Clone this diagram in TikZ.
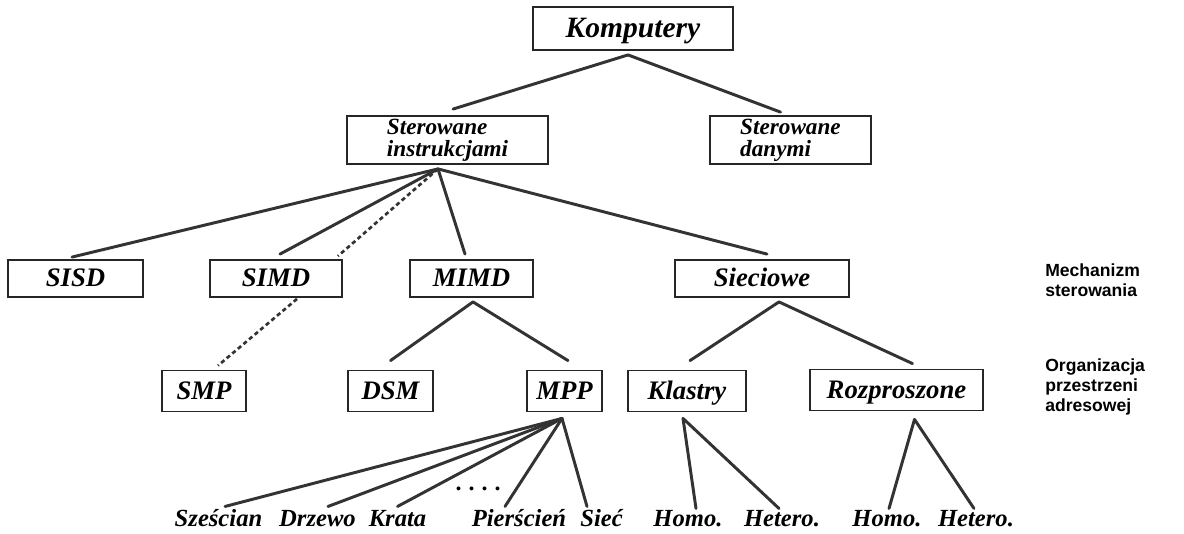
\documentclass[tikz,border=0pt]{standalone}
\usepackage{fontspec}
\setmainfont{Liberation Serif}
\newfontfamily\sidefont{Liberation Sans}
\usetikzlibrary{calc}
\tikzset{
  frame/.style={draw=black!85, line width=1.3pt, inner sep=0pt, minimum height=0.925cm},
  box/.style={frame, text height=12.5pt, text depth=0.5pt, font=\fontsize{19}{20}\selectfont\bfseries\itshape},
  twoline/.style={frame, align=left, font=\fontsize{16.5}{15.5}\selectfont\bfseries\itshape},
  leaf/.style={inner sep=0pt, text height=12pt, text depth=4pt, font=\fontsize{17.5}{20}\selectfont\bfseries\itshape},
  side/.style={inner sep=0pt, anchor=west, align=left, font=\sidefont\bfseries\fontsize{12.5}{14}\selectfont},
  edge/.style={draw=black!80, line width=2.1pt, line cap=round},
  dashedge/.style={draw=black!80, line width=1.9pt, dash pattern=on 3pt off 2.2pt},
}
\begin{document}
\begin{tikzpicture}[x=0.025cm,y=-0.025cm]
\useasboundingbox (0,0) rectangle (1184,533);
\node[box,minimum width=5cm,minimum height=1.075cm,text height=14pt,font=\fontsize{21}{24}\selectfont\bfseries\itshape] (kom) at (633,28.5) {Komputery};
\node[twoline,minimum width=5.025cm,minimum height=1.2cm] (ster) at (447.5,140) {Sterowane\\instrukcjami};
\node[twoline,minimum width=4.025cm,minimum height=1.2cm] (dane) at (790.5,140) {Sterowane\\danymi};
\node[box,minimum width=3.375cm] (sisd) at (75.5,278.5) {SISD};
\node[box,minimum width=3.3cm] (simd) at (276,278.5) {SIMD};
\node[box,minimum width=3.075cm] (mimd) at (471.5,278.5) {MIMD};
\node[box,minimum width=4.35cm] (siec) at (762,278.5) {Sieciowe};
\node[box,minimum width=2.1cm,minimum height=1.025cm] (smp) at (204,391) {SMP};
\node[box,minimum width=2.125cm,minimum height=1.025cm] (dsm) at (390.5,391) {DSM};
\node[box,minimum width=1.875cm,minimum height=1.025cm] (mpp) at (564.5,391) {MPP};
\node[box,minimum width=2.95cm,minimum height=1.025cm] (klastry) at (687,391) {Klastry};
\node[box,minimum width=4.325cm,minimum height=1.025cm] (rozpr) at (896.5,390) {Rozproszone};
\node[side] (mech) at (1045,280) {Mechanizm\\sterowania};
\node[side] (org) at (1045,387) {Organizacja\\przestrzeni\\adresowej};
\node[leaf] (szescian) at (218.5,521) {Sześcian};
\node[leaf] (drzewo) at (317.5,521) {Drzewo};
\node[leaf] (krata) at (397.5,521) {Krata};
\node[font=\fontsize{17}{20}\selectfont\bfseries] (kropki) at (478,489) {.\hspace{5pt}.\hspace{5pt}.\hspace{5pt}.};
\node[leaf] (pierscien) at (519,521) {Pierścień};
\node[leaf] (siecl) at (601.5,521) {Sieć};
\node[leaf] (homoA) at (688,521) {Homo.};
\node[leaf] (heteroA) at (782,521) {Hetero.};
\node[leaf] (homoB) at (887,521) {Homo.};
\node[leaf] (heteroB) at (976,521) {Hetero.};
\coordinate (komA) at ($(kom.south)+(-5,4)$);
\coordinate (sterA) at ($(ster.south)+(-9.5,4)$);
\coordinate (mimdA) at ($(mimd.south)+(1.5,4)$);
\coordinate (siecA) at ($(siec.south)+(17,4)$);
\coordinate (mppA) at ($(mpp.south)+(-2.5,6)$);
\coordinate (klastryA) at ($(klastry.south)+(-4,6)$);
\coordinate (rozprA) at ($(rozpr.south)+(18,8)$);
\draw[edge] (komA) -- ($(ster.north)+(5.5,-6)$);
\draw[edge] (komA) -- ($(dane.north)+(-10,-3)$);
\draw[edge] (sterA) -- ($(sisd.north)+(-3.5,-2)$);
\draw[edge] (sterA) -- ($(simd.north)+(4,-5)$);
\draw[edge] (sterA) -- ($(mimd.north)+(-6.5,-5)$);
\draw[edge] (sterA) -- ($(siec.north)+(5,-5)$);
\draw[dashedge] (sterA) -- ($(simd.north east)+(-5,-3)$);
\draw[dashedge] ($(simd.south)+(21,1)$) -- ($(smp.north)+(14,-4)$);
\draw[edge] (mimdA) -- ($(dsm.north)+(0,-9)$);
\draw[edge] (mimdA) -- ($(mpp.north)+(3.5,-9)$);
\draw[edge] (siecA) -- ($(klastry.north)+(3,-9)$);
\draw[edge] (siecA) -- ($(rozpr.north)+(16,-5)$);
\draw[edge] (mppA) -- ($(szescian.north)+(6.5,-3)$);
\draw[edge] (mppA) -- ($(drzewo.north)+(10.5,-3)$);
\draw[edge] (mppA) -- ($(krata.north)+(0,-3)$);
\draw[edge] (mppA) -- ($(pierscien.north)+(-14,-3)$);
\draw[edge] (mppA) -- ($(siecl.north)+(-14.5,-3)$);
\draw[edge] (klastryA) -- ($(homoA.north)+(8,-1)$);
\draw[edge] (klastryA) -- ($(heteroA.north)+(-3,-1)$);
\draw[edge] (rozprA) -- ($(homoB.north)+(2,-1)$);
\draw[edge] (rozprA) -- ($(heteroB.north)+(-2,-1)$);
\end{tikzpicture}
\end{document}
